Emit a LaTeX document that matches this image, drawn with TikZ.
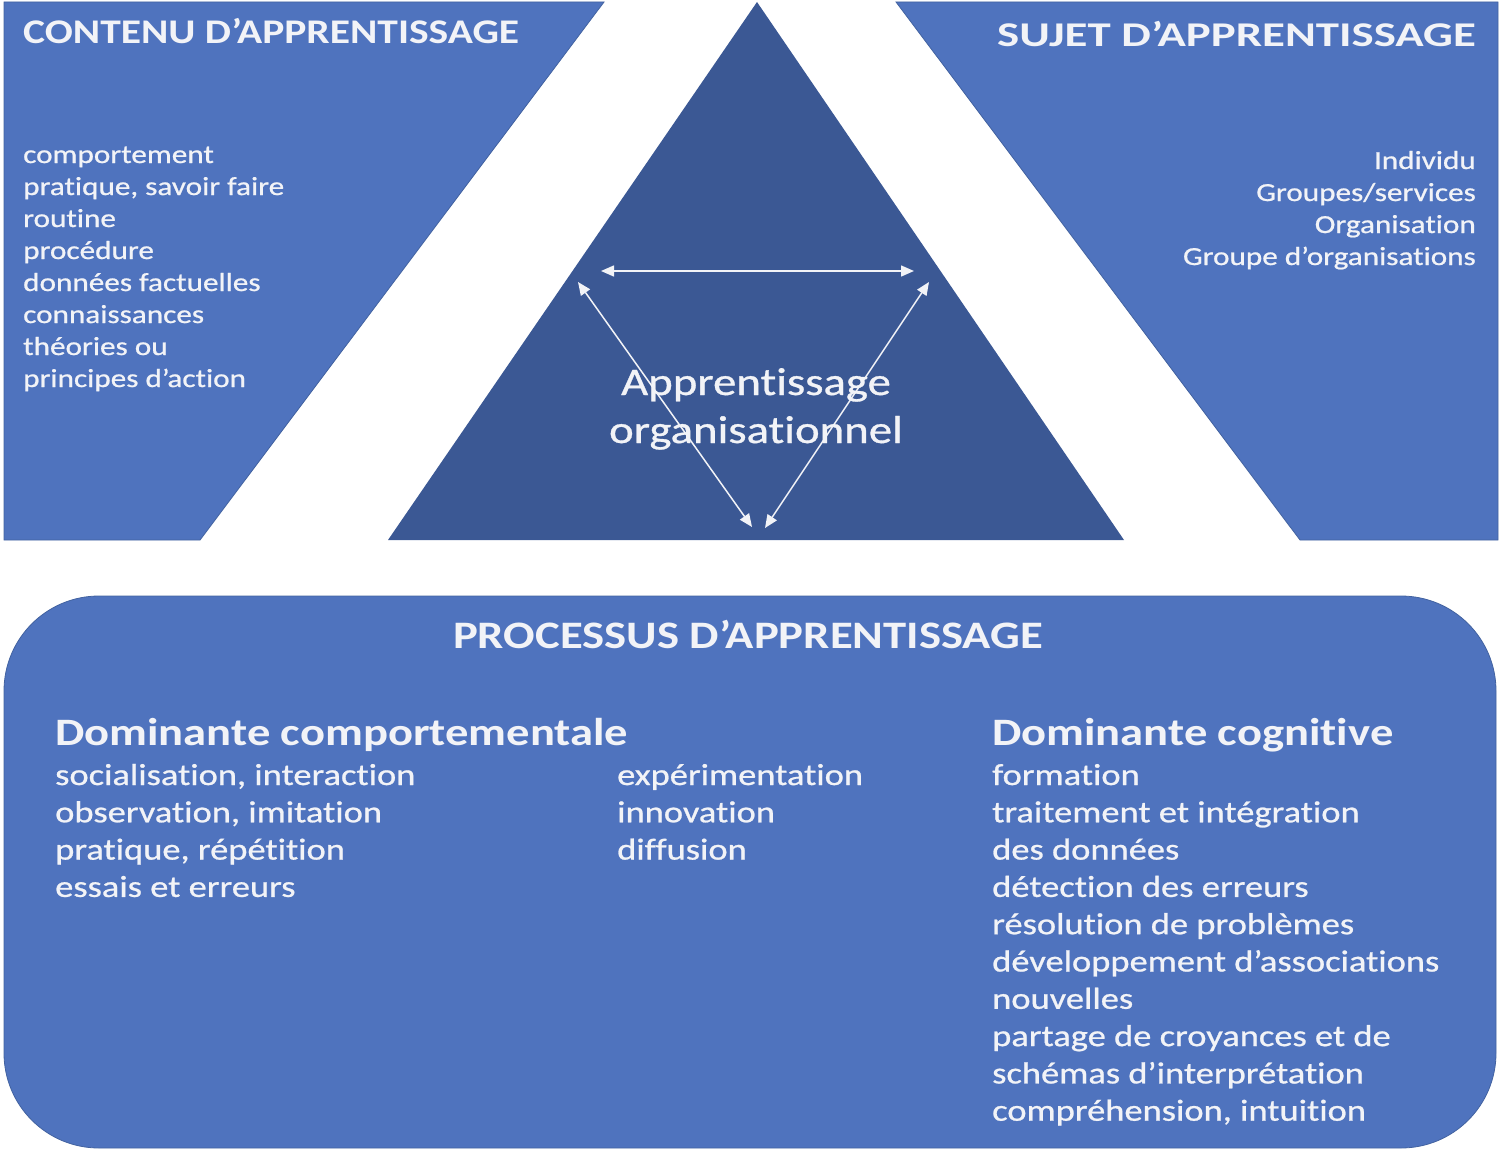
\documentclass[tikz,border=0pt]{standalone}
\usepackage{fontspec}
\setmainfont{Carlito}
\newfontfamily\regf{Carlito}[FakeStretch=1.2, Ligatures=CommonOff, FakeBold=0.8]
\newfontfamily\boldf{Carlito}[FakeStretch=1.2, Ligatures=CommonOff]
\newfontfamily\boldw{Carlito}[FakeStretch=1.35, Ligatures=CommonOff]
\usetikzlibrary{arrows.meta}
\definecolor{sideblue}{RGB}{79,115,190}
\definecolor{triblue}{RGB}{59,88,148}
\definecolor{edgeblue}{RGB}{66,98,160}
\definecolor{txt}{RGB}{242,243,247}
\tikzset{
  panel/.style={fill=sideblue, draw=edgeblue, line width=0.8pt},
  tri/.style={fill=triblue},
  title/.style={text=txt, inner sep=0pt, font=\boldf\bfseries\fontsize{34.6}{40}\selectfont},
  titlew/.style={text=txt, inner sep=0pt, font=\boldw\bfseries\fontsize{34.7}{40}\selectfont},
  titlep/.style={text=txt, inner sep=0pt, font=\boldf\bfseries\fontsize{38.9}{44}\selectfont},
  listtop/.style={text=txt, inner sep=0pt, font=\regf\fontsize{26}{32}\selectfont},
  central/.style={text=txt, inner sep=0pt, font=\regf\fontsize{39}{48}\selectfont},
  head/.style={text=txt, inner sep=0pt, font=\boldf\bfseries\fontsize{38.8}{44}\selectfont},
  body/.style={text=txt, inner sep=0pt, font=\regf\fontsize{30.4}{37}\selectfont},
  link/.style={draw=txt, line width=1.5pt, {Triangle[length=13pt,width=11pt]}-{Triangle[length=13pt,width=11pt]}},
}
\begin{document}
\begin{tikzpicture}[x=1pt,y=-1pt]
\useasboundingbox (0,0) rectangle (1502,1156);
% shapes
\path[panel] (4,2) -- (604,2) -- (200,540) -- (4,540) -- cycle;
\path[panel] (896,2) -- (1498,2) -- (1498,540) -- (1300,540) -- cycle;
\path[tri] (757,2) -- (1124,540) -- (388,540) -- cycle;
\path[panel, rounded corners=95pt] (4,596) rectangle (1496,1148);
% titles
\node[title, anchor=base west] (tcont) at (23,44) {CONTENU D’APPRENTISSAGE};
\node[titlew, anchor=base east] (tsuj) at (1476,47) {SUJET D’APPRENTISSAGE};
\node[titlep, anchor=base] (tproc) at (748,648) {PROCESSUS D’APPRENTISSAGE};
% top-left list
\foreach \t [count=\i] in {comportement, {pratique, savoir faire}, routine, procédure, données factuelles, connaissances, théories ou, principes d’action}
  \node[listtop, anchor=base west] (c\i) at (23,{163+32*(\i-1)}) {\t};
% top-right list
\foreach \t [count=\i] in {Individu, Groupes/services, Organisation, Groupe d’organisations}
  \node[listtop, anchor=base east] (s\i) at (1476,{169+32*(\i-1)}) {\t};
% centre
\node[central, anchor=base] (ap1) at (756,395) {Apprentissage};
\node[central, anchor=base] (ap2) at (756,443) {organisationnel};
% arrows
\coordinate (hl) at (601,271);
\coordinate (hr) at (914,271);
\coordinate (dl) at (578,282);
\coordinate (dr) at (929,282);
\coordinate (bl) at (752,527);
\coordinate (br) at (765,528);
\draw[link] (hl) -- (hr);
\draw[link] (dl) -- (bl);
\draw[link] (dr) -- (br);
% bottom headings
\node[head, anchor=base west] (hcomp) at (55,745) {Dominante comportementale};
\node[head, anchor=base west] (hcog) at (992,745) {Dominante cognitive};
% bottom lists
\foreach \t [count=\i] in {{socialisation, interaction}, {observation, imitation}, {pratique, répétition}, essais et erreurs}
  \node[body, anchor=base west] (b\i) at (55,{785+37.3*(\i-1)}) {\t};
\foreach \t [count=\i] in {expérimentation, innovation, diffusion}
  \node[body, anchor=base west] (m\i) at (617,{785+37.3*(\i-1)}) {\t};
\foreach \t [count=\i] in {formation, traitement et intégration, des données, détection des erreurs, résolution de problèmes, développement d’associations, nouvelles, partage de croyances et de, schémas d’interprétation, {compréhension, intuition}}
  \node[body, anchor=base west] (r\i) at (992,{785+37.3*(\i-1)}) {\t};
\end{tikzpicture}
\end{document}
